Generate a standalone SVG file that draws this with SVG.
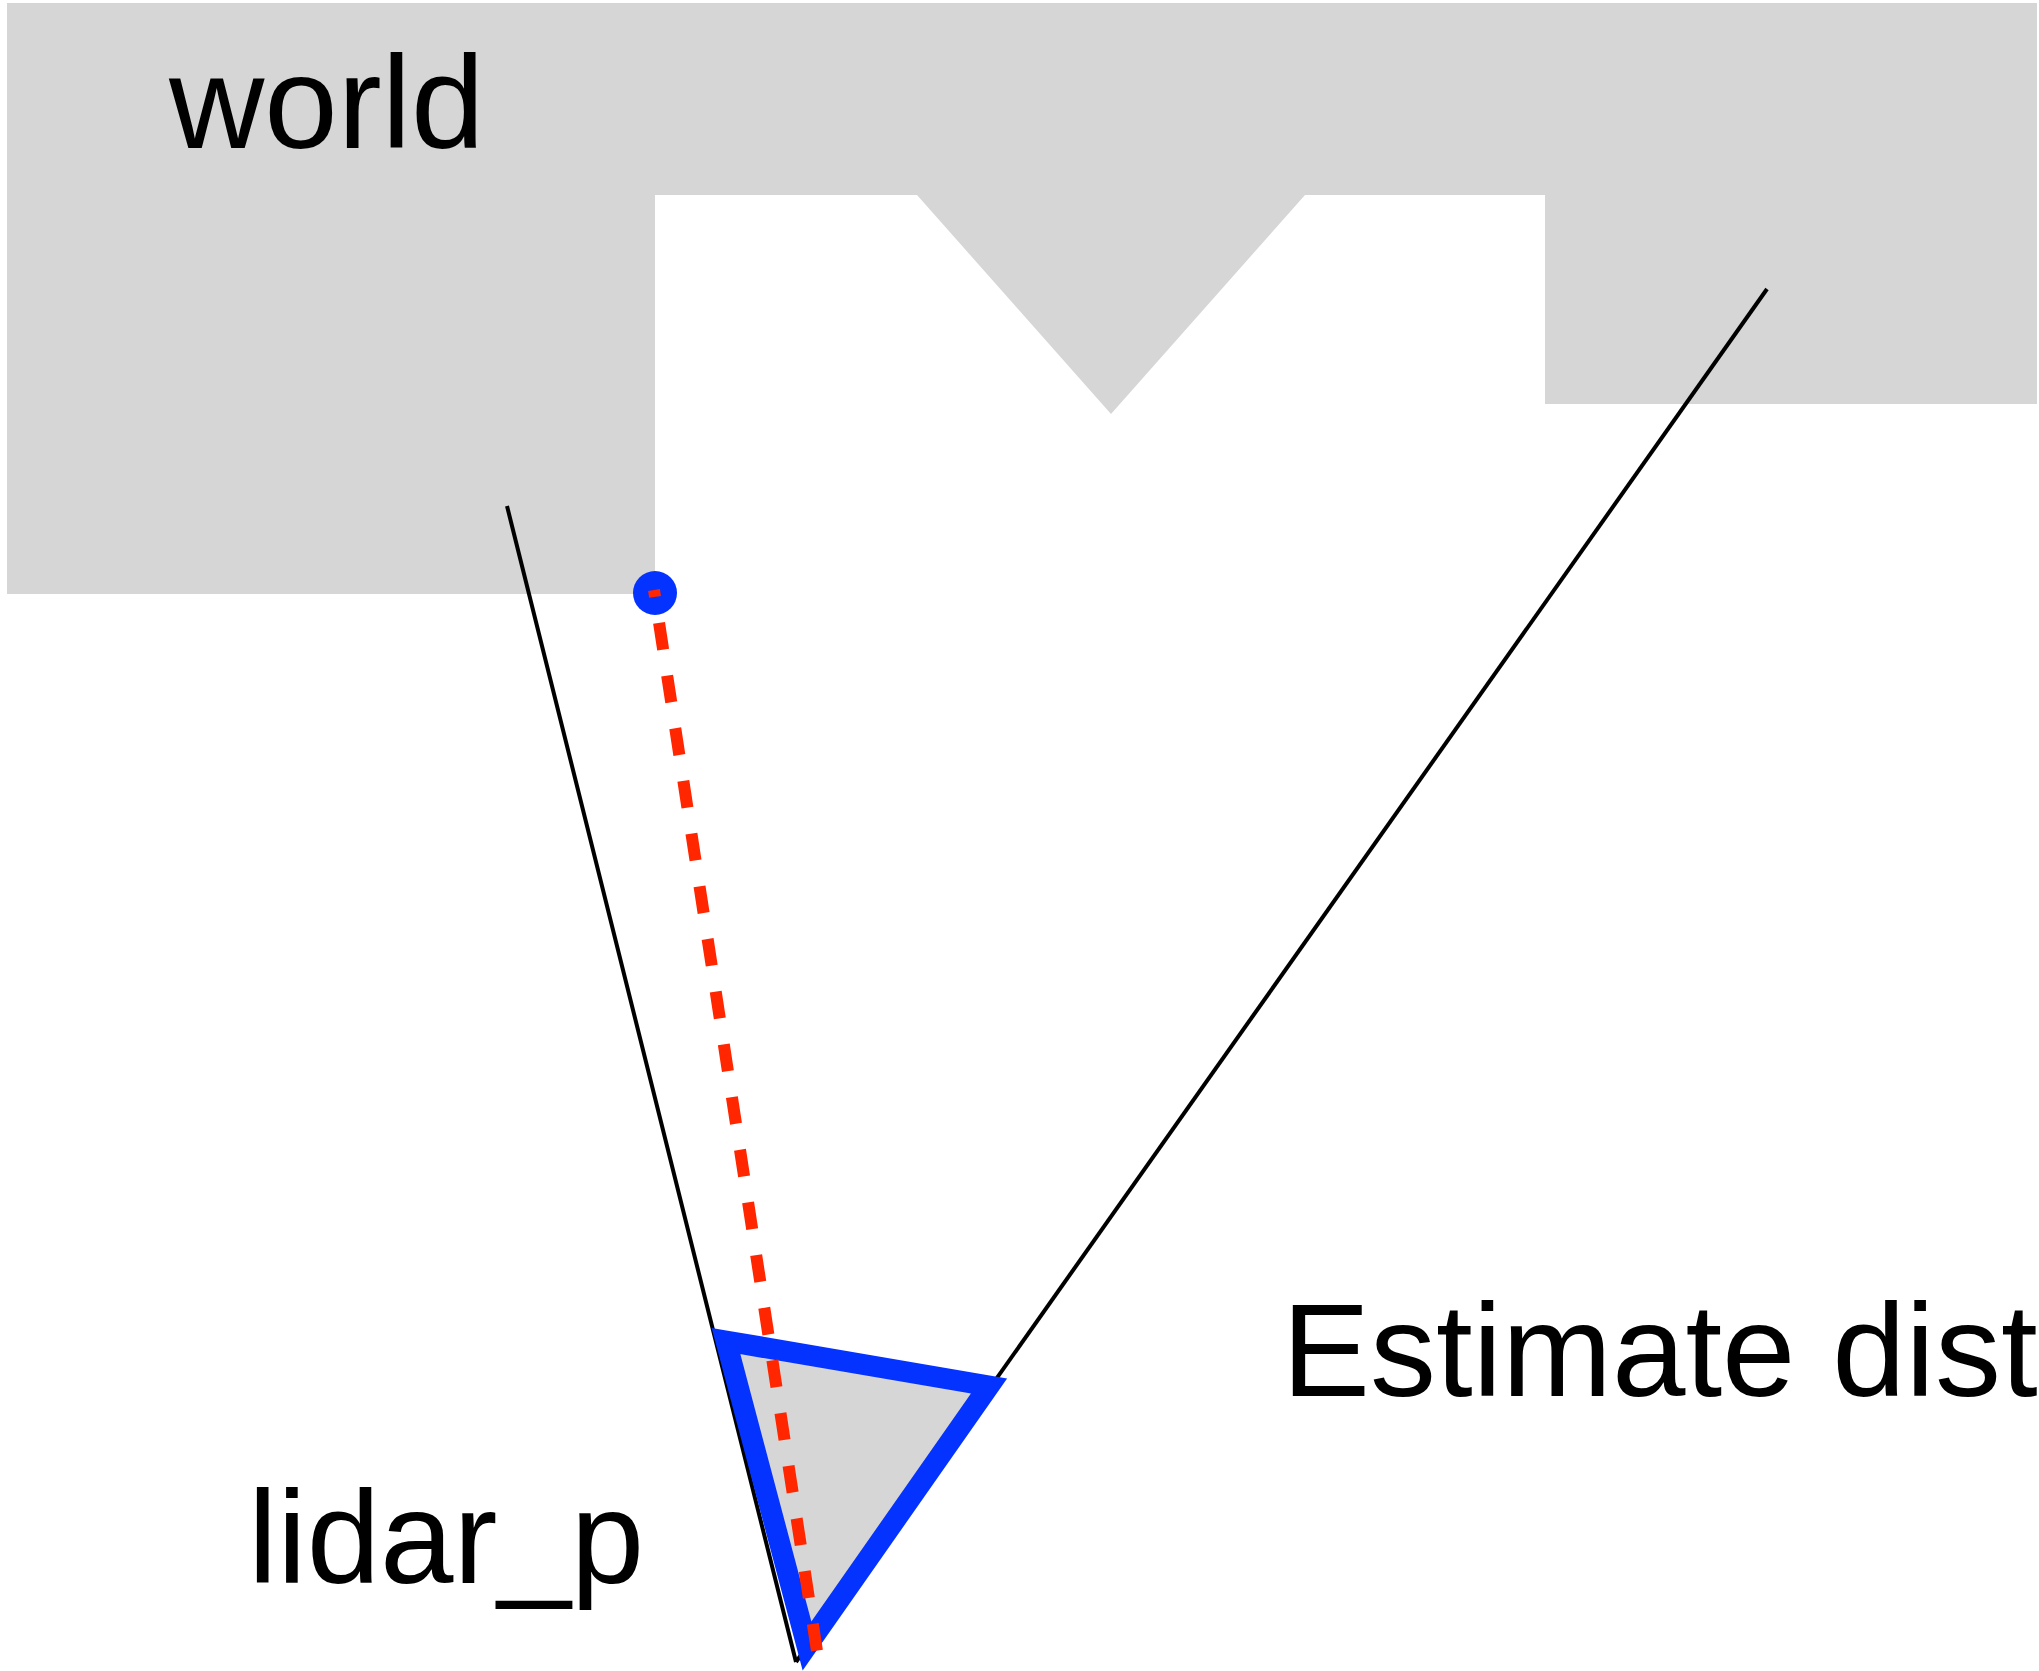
<svg xmlns="http://www.w3.org/2000/svg" width="2039" height="1671" viewBox="0 0 2039 1671">
  <style>
    .lbl { font-family: "Liberation Sans", Arial, Helvetica, sans-serif; font-size: 132px; fill: #000; }
    .ray { fill: none; stroke: #000; stroke-width: 4; }
  </style>
  <rect width="2039" height="1671" fill="#fff"/>
  <g id="world">
    <polygon points="7,3 2037,3 2037,404 1545,404 1545,195 1305,195 1111,414 917,195 655,195 655,594 7,594" fill="#d6d6d6"/>
    <text class="lbl" x="169" y="148">world</text>
  </g>
  <g id="connectors">
    <line class="ray" x1="507" y1="506" x2="796" y2="1662"/>
    <line class="ray" x1="1767" y1="289" x2="796" y2="1662"/>
  </g>
  <g id="lidar">
    <polygon points="726,1341 989,1386 807,1646" fill="#d6d6d6" stroke="#0433ff" stroke-width="21" stroke-linejoin="miter"/>
    <text class="lbl" x="248" y="1583">lidar_p</text>
  </g>
  <g id="point">
    <circle cx="655" cy="593" r="22" fill="#0433ff"/>
  </g>
  <g id="measurement">
    <line x1="654" y1="590" x2="817" y2="1651" stroke="#ff2600" stroke-width="12" stroke-dasharray="27 26.3" stroke-dashoffset="20"/>
  </g>
  <g id="estimate">
    <text class="lbl" x="1282" y="1396">Estimate dist</text>
  </g>
</svg>
